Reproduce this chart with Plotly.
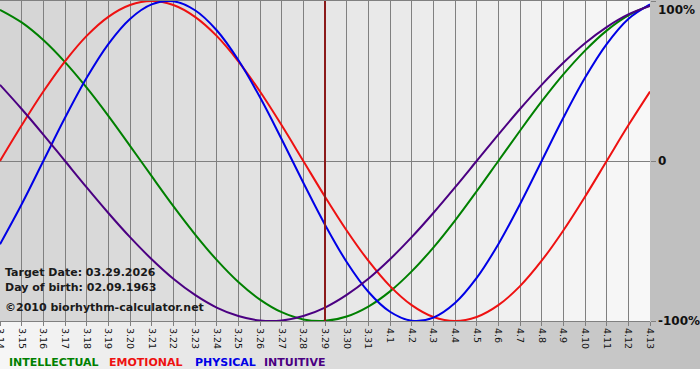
import plotly.graph_objects as go

# ---- data ----
dates = ['3.14', '3.15', '3.16', '3.17', '3.18', '3.19', '3.20', '3.21', '3.22', '3.23',
         '3.24', '3.25', '3.26', '3.27', '3.28', '3.29', '3.30', '3.31', '4.1', '4.2',
         '4.3', '4.4', '4.5', '4.6', '4.7', '4.8', '4.9', '4.10', '4.11', '4.12', '4.13']

intellectual = [0.945, 0.866, 0.756, 0.618, 0.458, 0.282, 0.095, -0.095, -0.282, -0.458,
                -0.618, -0.756, -0.866, -0.945, -0.990, -0.999, -0.972, -0.910, -0.815, -0.690,
                -0.541, -0.372, -0.189, 0.000, 0.189, 0.372, 0.541, 0.690, 0.815, 0.910, 0.972]

emotional = [0.000, 0.223, 0.434, 0.623, 0.782, 0.901, 0.975, 1.000, 0.975, 0.901,
             0.782, 0.623, 0.434, 0.223, 0.000, -0.223, -0.434, -0.623, -0.782, -0.901,
             -0.975, -1.000, -0.975, -0.901, -0.782, -0.623, -0.434, -0.223, 0.000, 0.223, 0.434]

physical = [-0.520, -0.270, 0.000, 0.270, 0.520, 0.731, 0.888, 0.979, 0.998, 0.942,
            0.817, 0.631, 0.398, 0.136, -0.136, -0.398, -0.631, -0.817, -0.942, -0.998,
            -0.979, -0.888, -0.731, -0.520, -0.270, 0.000, 0.270, 0.520, 0.731, 0.888, 0.979]

intuitive = [0.476, 0.325, 0.165, 0.000, -0.165, -0.325, -0.476, -0.614, -0.736, -0.837,
             -0.916, -0.969, -0.997, -0.997, -0.969, -0.916, -0.837, -0.736, -0.614, -0.476,
             -0.325, -0.165, 0.000, 0.165, 0.325, 0.476, 0.614, 0.736, 0.837, 0.916, 0.969]

series_names = ['INTELLECTUAL', 'EMOTIONAL', 'PHYSICAL', 'INTUITIVE']
y_tick_vals = [1, 0, -1]
y_tick_text = ['100%', '0', '-100%']
target_label = '3.29'
info_lines = ['Target Date: 03.29.2026', 'Day of birth: 02.09.1963', '©2010 biorhythm-calculator.net']

# ---- styling ----
W, H = 700, 380
ML, MR, MT, MB = 0, 50, 1, 59
PW, PH = W - ML - MR, H - MT - MB
colors = {'INTELLECTUAL': '#008000', 'EMOTIONAL': '#ee1111',
          'PHYSICAL': '#0000e6', 'INTUITIVE': '#4b0082'}
FONT = 'DejaVu Sans'


def px_x(px):
    return (px - ML) / PW


def px_y(py):
    return (MT + PH - py) / PH


def grey(v):
    v = int(round(v))
    return f'rgb({v},{v},{v})'


x_idx = list(range(len(dates)))
fig = go.Figure()
values = {'INTELLECTUAL': intellectual, 'EMOTIONAL': emotional,
          'PHYSICAL': physical, 'INTUITIVE': intuitive}
for name in series_names:
    fig.add_trace(go.Scatter(x=x_idx, y=values[name], mode='lines', name=name,
                             line=dict(color=colors[name], width=2, shape='spline', smoothing=1),
                             hoverinfo='skip', showlegend=False))

shapes = []
# plot area gradient (dark left -> light right)
n = 65
for j in range(n):
    c = 212 + (248 - 212) * (j + 0.5) / n
    shapes.append(dict(type='rect', xref='paper', yref='paper', x0=j / n, x1=(j + 1) / n + 0.001,
                       y0=0, y1=1, fillcolor=grey(c), line=dict(width=0), layer='below'))
# bottom band gradient (light left -> grey right)
n2 = 70
xr = W / PW
for j in range(n2):
    c = 246 + (192 - 246) * (j + 0.5) / n2
    shapes.append(dict(type='rect', xref='paper', yref='paper', x0=xr * j / n2,
                       x1=xr * (j + 1) / n2 + 0.001, y0=px_y(369), y1=0,
                       fillcolor=grey(c), line=dict(width=0), layer='below'))
# right margin
shapes.append(dict(type='rect', xref='paper', yref='paper', x0=1, x1=xr, y0=0, y1=px_y(0),
                   fillcolor=grey(192), line=dict(width=0), layer='below'))
# target date line
t_idx = dates.index(target_label)
shapes.append(dict(type='line', xref='x', yref='paper', x0=t_idx, x1=t_idx, y0=0, y1=1,
                   line=dict(color='#8b1a1a', width=2), layer='above'))

annotations = []
for i, (txt, py) in enumerate(zip(info_lines, [272, 287, 307])):
    annotations.append(dict(text=txt, xref='paper', yref='paper', x=px_x(3), y=px_y(py),
                            xanchor='left', yanchor='middle', showarrow=False,
                            font=dict(family=FONT, size=11, color='#1a1a1a', weight='bold')))
for name, px in zip(series_names, [7, 107, 193, 262]):
    annotations.append(dict(text=name, xref='paper', yref='paper', x=px_x(px), y=px_y(362),
                            xanchor='left', yanchor='middle', showarrow=False,
                            font=dict(family=FONT, size=11, color=colors[name], weight='bold')))
for val, txt in zip(y_tick_vals, y_tick_text):
    annotations.append(dict(text=txt, xref='paper', yref='y', x=px_x(656), y=val,
                            xanchor='left', yanchor='top' if val == 1 else 'middle',
                            showarrow=False,
                            font=dict(family=FONT, size=12, color='#111111', weight='bold')))

fig.update_layout(
    width=W, height=H, autosize=False,
    margin=dict(l=ML, r=MR, t=MT, b=MB, pad=0, autoexpand=False),
    paper_bgcolor='white', plot_bgcolor='rgba(0,0,0,0)',
    shapes=shapes, annotations=annotations,
    xaxis=dict(range=[0, len(dates) - 1], tickmode='array', tickvals=x_idx, ticktext=dates,
               tickangle=90, tickfont=dict(family=FONT, size=9.5, color='#111111'),
               ticklabeloverflow='allow',
               showgrid=True, gridcolor='#808080', gridwidth=1, zeroline=False,
               ticks='outside', ticklen=4, tickcolor='#808080', automargin=False,
               showline=True, mirror=True, linecolor='#808080', linewidth=1, fixedrange=True),
    yaxis=dict(range=[-1, 1], side='right', tickmode='array', tickvals=y_tick_vals,
               showticklabels=False, showgrid=True, gridcolor='#808080', gridwidth=1,
               automargin=False,
               zeroline=False, ticks='outside', ticklen=5, tickcolor='#808080', fixedrange=True),
    hovermode=False,
)

fig.write_html('out.html', config={'displayModeBar': False},
               post_script="document.body.style.margin='0';document.body.style.padding='0';")
